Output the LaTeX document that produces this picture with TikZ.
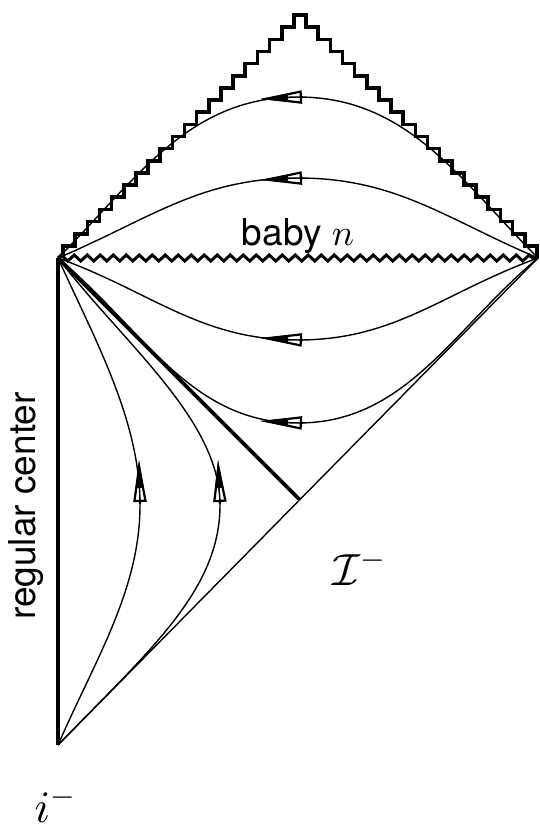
\documentclass[tikz,border=0pt]{standalone}
\usepackage{fontspec}
\setsansfont{TeX Gyre Heros}
\DeclareFontShape{OML}{cmm}{m}{it}{<->cmmi10}{}
\DeclareFontShape{OMS}{cmsy}{m}{n}{<->cmsy10}{}
\DeclareFontShape{OT1}{cmr}{m}{n}{<->cmr10}{}
\usetikzlibrary{arrows.meta,decorations.pathmorphing}
\begin{document}
\begin{tikzpicture}[x=1pt,y=-1pt,
  fine/.style={line width=1.4pt},
  heavy/.style={line width=3.6pt},
  stairline/.style={line width=3.6pt, line join=miter},
  zig/.style={line width=3pt, decorate, decoration={zigzag, segment length=13pt, amplitude=3pt}},
  arr/.style={line width=2.2pt, -{Triangle[open,length=42pt,width=13pt]}},
  arrfill/.style={line width=0.8pt, -{Triangle[length=28pt,width=8pt]}},
  sanslabel/.style={font=\sffamily\fontsize{37}{40}\selectfont},
  mathlabel/.style={font=\fontsize{45}{50}\selectfont}
]
\useasboundingbox (0,0) rectangle (540,831);
% key points
\coordinate (C) at (58,258);
\coordinate (B) at (58,745);
\coordinate (R) at (538,258);
\coordinate (M) at (300,500);
% peaks / turning points of the curves
\coordinate (p1) at (298,97);
\coordinate (p2) at (298,178);
\coordinate (p3) at (298,340);
\coordinate (p4) at (298,423);
\coordinate (q5) at (140,505);
\coordinate (q6) at (220,505);

% staircase (top boundary)
\def\s{12.15}
\draw[stairline] (63,258)
  \foreach \i in {1,...,20} { -- ++(0,-\s) -- ++(\s,0) }
  \foreach \i in {1,...,19} { -- ++(0,\s) -- ++(\s,0) }
  -- ++(0,\s);

% zigzag singularity
\draw[zig] (C) -- (R);

% regular center and thick null line
\draw[heavy] (B) -- (C);
\draw[heavy] (C) -- (M);
% past null infinity
\draw[fine] (B) -- (R);

% curves above the zigzag
\draw[fine] (C) .. controls (136,180) and (188,97) .. (p1)
                .. controls (408,97) and (460,180) .. (R);
\draw[fine] (C) .. controls (150,219) and (200,178) .. (p2)
                .. controls (396,178) and (446,219) .. (R);
% curves below the zigzag
\draw[fine] (C) .. controls (152,292) and (200,340) .. (p3)
                .. controls (396,340) and (444,292) .. (R);
\draw[fine] (C) .. controls (143,329) and (190,423) .. (p4)
                .. controls (406,423) and (453,329) .. (R);
% curves from i^- to the center
\draw[fine] (B) .. controls (95,660) and (140,590) .. (q5)
                .. controls (140,420) and (95,340) .. (C);
\draw[fine] (B) .. controls (150,650) and (220,590) .. (q6)
                .. controls (220,420) and (125,345) .. (C);

% arrows (open triangle with a dark tip)
\foreach \p/\dx/\dy in {p1/-43/2, p2/-43/2, p3/-43/-2, p4/-43/-2}{
  \draw[arr] ([xshift=5pt]\p) -- ++(\dx,\dy);
  \draw[arrfill] ([xshift=5pt]\p) -- ++(\dx,\dy);
}
\foreach \q/\dx in {q5/-1, q6/-2}{
  \draw[arr] ([yshift=1pt]\q) -- ++(\dx,-44);
  \draw[arrfill] ([yshift=1pt]\q) -- ++(\dx,-44);
}

% labels
\node[sanslabel, anchor=base] (baby) at (298,245) {baby $n$};
\node[sanslabel, anchor=base, rotate=90] (center) at (35,506) {regular center};
\node[mathlabel, anchor=base] (scri) at (359,585) {$\mathcal{I}^-$};
\node[mathlabel, anchor=base] (im) at (55,822) {$i^-$};
\end{tikzpicture}
\end{document}
